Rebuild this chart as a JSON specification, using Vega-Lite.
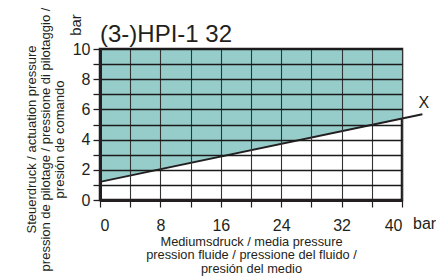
{
  "$schema": "https://vega.github.io/schema/vega-lite/v6.json",
  "width": 302,
  "height": 151,
  "autosize": {"type": "none"},
  "padding": {"left": 100, "top": 49, "right": 34, "bottom": 78},
  "background": "white",
  "config": {
    "font": "Liberation Sans",
    "view": {"stroke": "#231f20", "strokeWidth": 2.5},
    "axis": {"labelFont": "Liberation Sans", "titleFont": "Liberation Sans", "labelColor": "#231f20", "titleColor": "#231f20", "titleFontWeight": "normal"}
  },
  "datasets": {
    "region": [{"x": 0, "y": 1.2, "top": 10}, {"x": 40, "y": 5.4, "top": 10}],
    "curve": [{"x": 0, "y": 1.2}, {"x": 42.7, "y": 5.68}],
    "label": [{"x": 42.9, "y": 6.4, "text": "X"}],
    "heading": [{"x": 0, "y": 10, "text": "(3-)HPI-1 32"}],
    "yunit": [{"x": 0, "y": 10, "text": "bar"}],
    "xunit": [{"x": 40, "y": 0, "text": "bar"}]
  },
  "encoding": {
    "x": {
      "field": "x", "type": "quantitative",
      "scale": {"domain": [0, 40], "nice": false, "zero": false},
      "axis": {
        "values": [0, 4, 8, 12, 16, 20, 24, 28, 32, 36, 40],
        "labelExpr": "datum.value % 8 == 0 ? datum.label : ''",
        "labelFontSize": 16, "labelPadding": 10, "tickSize": 7, "tickColor": "#231f20", "tickWidth": 1.2,
        "grid": true, "gridColor": "#333333", "gridWidth": 1.1, "gridOpacity": 1,
        "domainColor": "#231f20", "domainWidth": 3,
        "zindex": 1,
        "title": ["Mediumsdruck / media pressure", "pression fluide / pressione del fluido /", "presión del medio"],
        "titleFontSize": 12.8, "titleLineHeight": 13.5, "titlePadding": 2
      }
    },
    "y": {
      "field": "y", "type": "quantitative",
      "scale": {"domain": [0, 10], "nice": false},
      "axis": {
        "values": [0, 1, 2, 3, 4, 5, 6, 7, 8, 9, 10],
        "labelExpr": "datum.value % 2 == 0 ? datum.label : ''",
        "labelFontSize": 16, "labelPadding": 3, "tickSize": 7, "tickColor": "#231f20", "tickWidth": 1.3,
        "grid": true, "gridColor": "#1a1a1a", "gridWidth": 1.3, "gridOpacity": 1,
        "domainColor": "#231f20", "domainWidth": 3,
        "zindex": 1,
        "title": ["Steuerdruck / actuation pressure", "pression de pilotage / pressione di pilotaggio /", "presión de comando"],
        "titleFontSize": 13, "titleLineHeight": 14, "titlePadding": 6, "titleY": 90
      }
    }
  },
  "layer": [
    {
      "data": {"name": "region"},
      "mark": {"type": "area", "color": "#96cdcb", "opacity": 1},
      "encoding": {"y2": {"field": "top"}}
    },
    {
      "data": {"name": "curve"},
      "mark": {"type": "line", "color": "#231f20", "strokeWidth": 2, "clip": false},
      "encoding": {}
    },
    {
      "data": {"name": "label"},
      "mark": {"type": "text", "fontSize": 16, "color": "#231f20", "align": "center", "baseline": "middle"},
      "encoding": {"text": {"field": "text"}}
    },
    {
      "data": {"name": "heading"},
      "mark": {"type": "text", "fontSize": 24, "color": "#231f20", "align": "left", "baseline": "alphabetic", "dy": -7.5},
      "encoding": {"text": {"field": "text"}}
    },
    {
      "data": {"name": "yunit"},
      "mark": {"type": "text", "fontSize": 15, "color": "#231f20", "align": "center", "baseline": "middle", "angle": 270, "dx": 24, "dy": -24},
      "encoding": {"text": {"field": "text"}, "angle": {"value": 270}}
    },
    {
      "data": {"name": "xunit"},
      "mark": {"type": "text", "fontSize": 16, "color": "#231f20", "align": "left", "baseline": "alphabetic", "dx": 11, "dy": 29},
      "encoding": {"text": {"field": "text"}}
    }
  ]
}
